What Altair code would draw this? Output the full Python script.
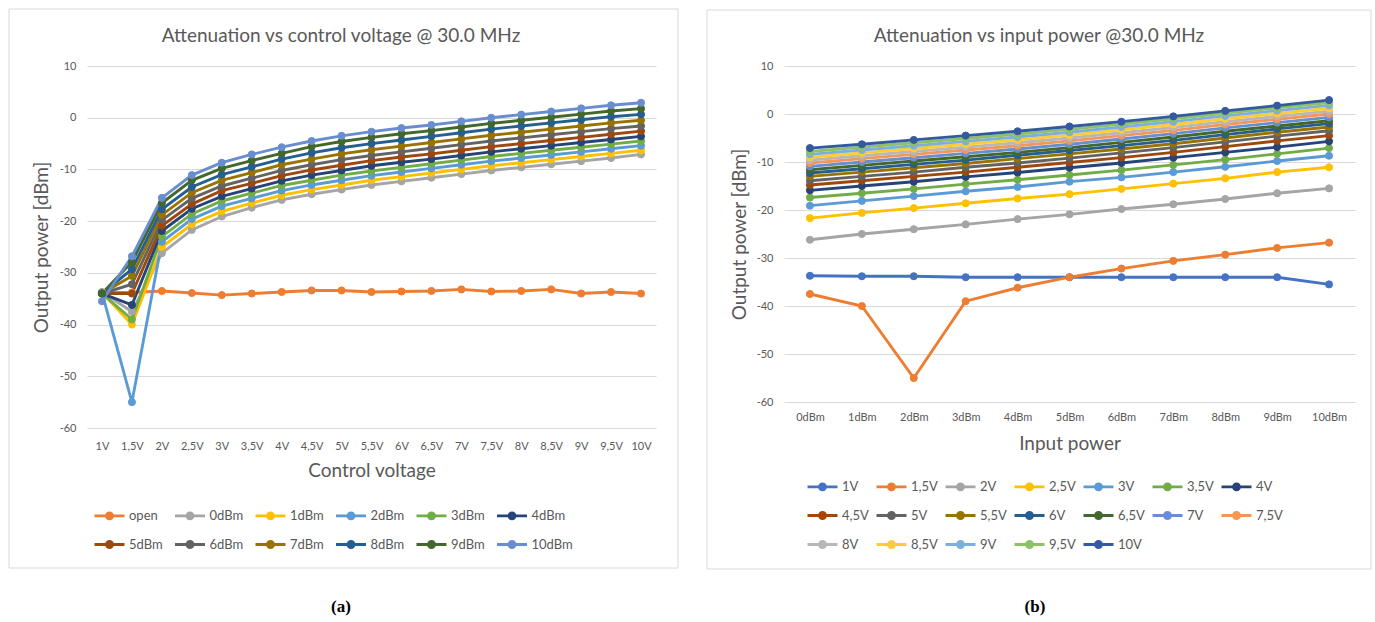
import altair as alt
import pandas as pd

# ---------------------------------------------------------------- data
voltages = ["1V", "1,5V", "2V", "2,5V", "3V", "3,5V", "4V", "4,5V", "5V", "5,5V",
            "6V", "6,5V", "7V", "7,5V", "8V", "8,5V", "9V", "9,5V", "10V"]
input_powers = ["0dBm", "1dBm", "2dBm", "3dBm", "4dBm", "5dBm",
                "6dBm", "7dBm", "8dBm", "9dBm", "10dBm"]

# output power with the input left open, per control voltage
open_output = [-33.8, -33.8, -33.5, -33.9, -34.3, -34.0, -33.7, -33.4, -33.4, -33.7,
               -33.6, -33.5, -33.2, -33.6, -33.5, -33.2, -34.0, -33.7, -34.0]

# output power [dBm] per control voltage, one value per input power 0..10 dBm
out_1v = [-33.7, -33.8, -33.8, -34.0, -34.0, -34.0, -34.0, -34.0, -34.0, -34.0, -35.5]
out_1v5 = [-37.5, -40.0, -55.0, -39.0, -36.2, -34.0, -32.2, -30.6, -29.3, -27.9, -26.8]
out_2v = [-26.2, -25.0, -24.0, -23.0, -21.9, -20.9, -19.8, -18.8, -17.7, -16.5, -15.5]
out_2v5 = [-21.7, -20.6, -19.6, -18.6, -17.6, -16.7, -15.6, -14.5, -13.4, -12.1, -11.1]
out_3v = [-19.1, -18.1, -17.1, -16.1, -15.2, -14.1, -13.2, -12.1, -11.0, -9.8, -8.7]
out_3v5 = [-17.4, -16.5, -15.6, -14.6, -13.7, -12.7, -11.7, -10.6, -9.5, -8.3, -7.1]
out_4v = [-15.9, -15.0, -14.1, -13.1, -12.2, -11.2, -10.2, -9.1, -8.0, -6.9, -5.7]
out_4v5 = [-14.8, -13.9, -13.0, -12.1, -11.1, -10.1, -9.1, -8.0, -6.8, -5.6, -4.5]
out_5v = [-13.9, -13.0, -12.1, -11.1, -10.2, -9.2, -8.1, -7.0, -5.8, -4.6, -3.5]
out_5v5 = [-13.0, -12.1, -11.2, -10.3, -9.3, -8.3, -7.3, -6.2, -5.0, -3.8, -2.7]
out_6v = [-12.3, -11.4, -10.5, -9.6, -8.6, -7.6, -6.6, -5.5, -4.3, -3.1, -2.0]
out_6v5 = [-11.6, -10.7, -9.8, -8.9, -8.0, -7.0, -5.9, -4.8, -3.6, -2.5, -1.4]
out_7v = [-10.9, -10.0, -9.1, -8.2, -7.3, -6.3, -5.2, -4.1, -2.9, -1.8, -0.7]
out_7v5 = [-10.2, -9.3, -8.4, -7.5, -6.6, -5.6, -4.5, -3.4, -2.2, -1.1, 0.0]
out_8v = [-9.6, -8.7, -7.8, -6.9, -6.0, -5.0, -3.9, -2.8, -1.6, -0.5, 0.6]
out_8v5 = [-9.0, -8.1, -7.2, -6.3, -5.4, -4.4, -3.3, -2.2, -1.0, 0.1, 1.2]
out_9v = [-8.4, -7.5, -6.6, -5.7, -4.8, -3.8, -2.7, -1.6, -0.4, 0.7, 1.8]
out_9v5 = [-7.8, -6.9, -6.0, -5.1, -4.2, -3.2, -2.1, -1.0, 0.2, 1.3, 2.4]
out_10v = [-7.1, -6.3, -5.4, -4.5, -3.6, -2.6, -1.6, -0.5, 0.65, 1.75, 2.9]

output_table = [out_1v, out_1v5, out_2v, out_2v5, out_3v, out_3v5, out_4v, out_4v5,
                out_5v, out_5v5, out_6v, out_6v5, out_7v, out_7v5, out_8v, out_8v5,
                out_9v, out_9v5, out_10v]

left_series = ["open"] + input_powers
left_colors = ["#ED7D31", "#A5A5A5", "#FFC000", "#5B9BD5", "#70AD47", "#264478",
               "#9E480E", "#636363", "#997300", "#255E91", "#43682B", "#698ED0"]
right_colors = ["#4472C4", "#ED7D31", "#A5A5A5", "#FFC000", "#5B9BD5", "#70AD47",
                "#264478", "#9E480E", "#636363", "#997300", "#255E91", "#43682B",
                "#698ED0", "#F1975A", "#B7B7B7", "#FFCD33", "#7CAFDD", "#8CC168",
                "#335AA1"]

FONT = "Lato"
TEXT = "#595959"
GRID = "#D9D9D9"
# legend glyph: a line segment with a marker in the middle
LINE_MARKER = "M-1,0H1M-0.2,0A0.2,0.2,0,1,1,0.2,0A0.2,0.2,0,1,1,-0.2,0Z"

# ---------------------------------------------------------------- tables
left_rows = [{"voltage": v, "xi": i, "series": "open", "si": 0, "dbm": open_output[i]}
             for i, v in enumerate(voltages)]
for j, p in enumerate(input_powers):
    for i, v in enumerate(voltages):
        left_rows.append({"voltage": v, "xi": i, "series": p, "si": j + 1,
                          "dbm": output_table[i][j]})
left_df = pd.DataFrame(left_rows)

right_rows = []
for i, v in enumerate(voltages):
    for j, p in enumerate(input_powers):
        right_rows.append({"power": p, "xi": j, "series": v, "si": i,
                           "dbm": output_table[i][j]})
right_df = pd.DataFrame(right_rows)

y_ticks = [10, 0, -10, -20, -30, -40, -50, -60]


def legend(columns, x, y, col_pad):
    return alt.Legend(title=None, orient="none", legendX=x, legendY=y, columns=columns,
                      direction="horizontal", gridAlign="all",
                      symbolType=LINE_MARKER, symbolSize=900, symbolStrokeWidth=2.9,
                      symbolOpacity=1, labelFont=FONT, labelFontSize=13,
                      labelColor=TEXT, labelOffset=3, columnPadding=col_pad,
                      rowPadding=3, padding=0)


def panel(df, xfield, xorder, xtitle, series, colors, leg, w, h,
          title, caption, frame, title_x, cap_x, x_label_pad, x_title_y, y_title_x):
    scale = alt.Scale(domain=series, range=colors)
    x = alt.X(f"{xfield}:N", sort=xorder,
              axis=alt.Axis(title=xtitle, labelAngle=0, grid=False, ticks=False,
                            tickSize=0, domain=False, labelPadding=x_label_pad,
                            labelFontSize=11, titleFontSize=19,
                            titleY=x_title_y, titleBaseline="middle"))
    y = alt.Y("dbm:Q", scale=alt.Scale(domain=[-60, 10], nice=False, zero=False),
              axis=alt.Axis(values=y_ticks, title="Output power [dBm]", grid=True,
                            ticks=False, tickSize=0, domain=False, labelPadding=11,
                            labelFontSize=11, labelExpr="'' + datum.value",
                            titleFontSize=19,
                            titleX=y_title_x, titleY=h / 2, titleBaseline="middle"))
    lines = alt.Chart(df).mark_line(strokeWidth=2.9).encode(
        x=x, y=y,
        stroke=alt.Stroke("series:N", scale=scale, legend=leg),
        order=alt.Order("xi:Q"),
    )
    points = alt.Chart(df).mark_point(filled=True, size=50, opacity=1,
                                      strokeWidth=1).encode(
        x=x, y=y,
        fill=alt.Fill("series:N", scale=scale, legend=leg),
        stroke=alt.Stroke("series:N", scale=scale, legend=leg),
    )
    one = pd.DataFrame({"t": [title], "c": [caption]})
    box = alt.Chart(one).mark_rect(filled=False, stroke=GRID, strokeWidth=1).encode(
        x=alt.value(frame[0]), x2=alt.value(frame[1]),
        y=alt.value(frame[2]), y2=alt.value(frame[3]))
    head = alt.Chart(one).mark_text(font=FONT, fontSize=19, color=TEXT,
                                    baseline="middle", align="center").encode(
        text="t:N", x=alt.value(title_x), y=alt.value(-30))
    cap = alt.Chart(one).mark_text(font="Liberation Serif", fontSize=17,
                                   fontWeight="bold", color="#000000",
                                   baseline="middle", align="center").encode(
        text="c:N", x=alt.value(cap_x), y=alt.value(541))
    return alt.layer(box, head, cap, lines, points).properties(width=w, height=h)


left = panel(left_df, "voltage", voltages, "Control voltage", left_series, left_colors,
             legend(6, 6, 433, -2.5), 569, 362,
             "Attenuation vs control voltage @ 30.0 MHz", "(a)",
             (-78, 591, -57, 502), 254, 254, 12, 42, -46)
right = panel(right_df, "power", input_powers, "Input power", voltages, right_colors,
              legend(7, 22, 404, 1), 571, 336,
              "Attenuation vs input power @30.0 MHz", "(b)",
              (-77, 587, -56, 503), 255, 251, 9, 41, -45)

chart = alt.hconcat(left, right, spacing=27).resolve_scale(
    x="independent", y="independent", stroke="independent", fill="independent"
).properties(
    padding={"left": 8, "top": 8, "right": 2, "bottom": 2},
    background="#FFFFFF",
).configure_axis(
    labelFont=FONT, titleFont=FONT, labelColor=TEXT, titleColor=TEXT,
    titleFontWeight="normal", gridColor=GRID, gridWidth=1,
).configure_view(stroke="transparent")

chart.save("out.html", embed_options={"renderer": "svg", "actions": False})
